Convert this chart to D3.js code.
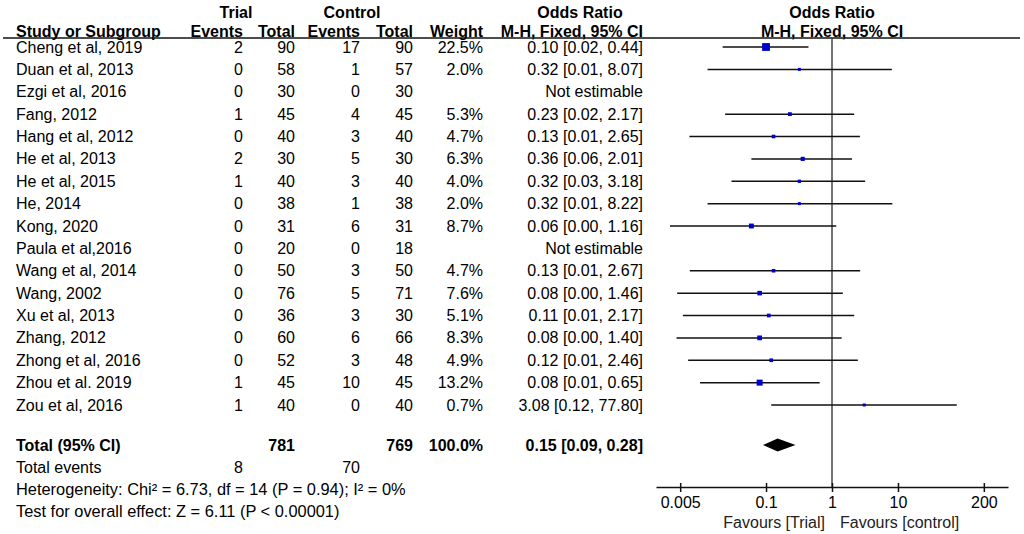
<!DOCTYPE html>
<html>
<head>
<meta charset="utf-8">
<script src="https://cdn.jsdelivr.net/npm/d3@7"></script>
<style>
  body { margin: 0; background: #fff; }
  svg { display: block; font-family: "Liberation Sans", Arial, sans-serif; }
  .bold { font-weight: bold; }
</style>
</head>
<body>
<div id="chart"></div>
<script>
// study rows
const studies = ["Cheng et al, 2019", "Duan et al, 2013", "Ezgi et al, 2016", "Fang, 2012",
  "Hang et al, 2012", "He et al, 2013", "He et al, 2015", "He, 2014", "Kong, 2020",
  "Paula et al,2016", "Wang et al, 2014", "Wang, 2002", "Xu et al, 2013", "Zhang, 2012",
  "Zhong et al, 2016", "Zhou et al. 2019", "Zou et al, 2016"];
const trialEvents = [2, 0, 0, 1, 0, 2, 1, 0, 0, 0, 0, 0, 0, 0, 0, 1, 1];
const trialTotal = [90, 58, 30, 45, 40, 30, 40, 38, 31, 20, 50, 76, 36, 60, 52, 45, 40];
const controlEvents = [17, 1, 0, 4, 3, 5, 3, 1, 6, 0, 3, 5, 3, 6, 3, 10, 0];
const controlTotal = [90, 57, 30, 45, 40, 30, 40, 38, 31, 18, 50, 71, 30, 66, 48, 45, 40];
const weights = [22.5, 2.0, null, 5.3, 4.7, 6.3, 4.0, 2.0, 8.7, null, 4.7, 7.6, 5.1, 8.3, 4.9, 13.2, 0.7];
const orLabels = ["0.10 [0.02, 0.44]", "0.32 [0.01, 8.07]", "Not estimable", "0.23 [0.02, 2.17]",
  "0.13 [0.01, 2.65]", "0.36 [0.06, 2.01]", "0.32 [0.03, 3.18]", "0.32 [0.01, 8.22]",
  "0.06 [0.00, 1.16]", "Not estimable", "0.13 [0.01, 2.67]", "0.08 [0.00, 1.46]",
  "0.11 [0.01, 2.17]", "0.08 [0.00, 1.40]", "0.12 [0.01, 2.46]", "0.08 [0.01, 0.65]",
  "3.08 [0.12, 77.80]"];
// plotted estimates (lower bounds read off the picture where the label rounds to 0.00/0.01)
const orPoint = [0.10, 0.32, null, 0.23, 0.13, 0.36, 0.32, 0.32, 0.06, null, 0.13, 0.08, 0.11, 0.08, 0.12, 0.08, 3.08];
const ciLow = [0.022, 0.013, null, 0.024, 0.0069, 0.06, 0.03, 0.013, 0.0035, null, 0.007, 0.0045, 0.0055, 0.0044, 0.0066, 0.01, 0.12];
const ciHigh = [0.44, 8.07, null, 2.17, 2.65, 2.01, 3.18, 8.22, 1.16, null, 2.67, 1.46, 2.17, 1.40, 2.46, 0.65, 77.80];

// pooled result
const totalLabel = "Total (95% CI)";
const totalN = [781, 769];
const totalWeight = "100.0%";
const pooled = { or: 0.15, low: 0.09, high: 0.28, label: "0.15 [0.09, 0.28]" };
const totalEvents = [8, 70];
const footnotes = ["Heterogeneity: Chi\u00b2 = 6.73, df = 14 (P = 0.94); I\u00b2 = 0%",
  "Test for overall effect: Z = 6.11 (P < 0.00001)"];
const tickValues = [0.005, 0.1, 1, 10, 200];
const tickLabels = ["0.005", "0.1", "1", "10", "200"];
const favourLabels = ["Favours [Trial]", "Favours [control]"];

const width = 1024, height = 534;
const svg = d3.select("#chart").append("svg")
    .attr("width", width)
    .attr("height", height)
    .style("font-size", "16px");

const y = d3.scaleLinear().domain([0, studies.length - 1]).range([47, 405]);
const x = d3.scaleLog().domain([0.00215, 465]).range([656, 1008]);
const axisY = 487;
const dy = "0.35em";

// column right edges
const col = { te: 243, tt: 295, ce: 360, ct: 413, w: 483, or: 643 };

// headers
const head = svg.append("g").attr("class", "bold");
head.append("text").attr("x", 236).attr("y", 12).attr("dy", dy).attr("text-anchor", "middle").text("Trial");
head.append("text").attr("x", 352).attr("y", 12).attr("dy", dy).attr("text-anchor", "middle").text("Control");
head.append("text").attr("x", 580).attr("y", 12).attr("dy", dy).attr("text-anchor", "middle").text("Odds Ratio");
head.append("text").attr("x", 832).attr("y", 12).attr("dy", dy).attr("text-anchor", "middle").text("Odds Ratio");
const sub = [["Study or Subgroup", 16, "start"], ["Events", col.te, "end"], ["Total", col.tt, "end"],
  ["Events", col.ce, "end"], ["Total", col.ct, "end"], ["Weight", col.w, "end"],
  ["M-H, Fixed, 95% CI", col.or, "end"], ["M-H, Fixed, 95% CI", 832, "middle"]];
head.selectAll(".sub").data(sub).join("text")
    .attr("class", "sub")
    .attr("x", d => d[1]).attr("y", 31).attr("dy", dy)
    .attr("text-anchor", d => d[2])
    .text(d => d[0]);
svg.append("line").attr("x1", 3).attr("x2", 1020).attr("y1", 38).attr("y2", 38)
    .attr("stroke", "#111").attr("stroke-width", 1.5);

// study table
const rows = svg.append("g").selectAll("g").data(studies).join("g")
    .attr("transform", (d, i) => `translate(0,${y(i)})`);
rows.append("text").attr("x", 16).attr("dy", dy).text(d => d);
const cells = [[trialEvents, col.te], [trialTotal, col.tt], [controlEvents, col.ce],
  [controlTotal, col.ct]];
cells.forEach(([arr, cx]) => {
  rows.append("text").attr("x", cx).attr("dy", dy).attr("text-anchor", "end")
      .text((d, i) => arr[i]);
});
rows.append("text").attr("x", col.w).attr("dy", dy).attr("text-anchor", "end")
    .text((d, i) => weights[i] == null ? "" : weights[i].toFixed(1) + "%");
rows.append("text").attr("x", col.or).attr("dy", dy).attr("text-anchor", "end")
    .text((d, i) => orLabels[i]);

// vertical line of no effect
svg.append("line").attr("x1", x(1)).attr("x2", x(1)).attr("y1", 38).attr("y2", axisY)
    .attr("stroke", "#444").attr("stroke-width", 1.5);

// CIs and squares
const est = studies.map((s, i) => i).filter(i => orPoint[i] != null);
svg.append("g").selectAll("line").data(est).join("line")
    .attr("x1", i => x(ciLow[i])).attr("x2", i => x(ciHigh[i]))
    .attr("y1", i => y(i)).attr("y2", i => y(i))
    .attr("stroke", "#111").attr("stroke-width", 1.5);
const size = i => Math.max(3, 1.65 * Math.sqrt(weights[i]));
svg.append("g").selectAll("rect").data(est).join("rect")
    .attr("x", i => x(orPoint[i]) - size(i) / 2)
    .attr("y", i => y(i) - size(i) / 2)
    .attr("width", size).attr("height", size)
    .attr("fill", "#0000cc");

// total row
const totY = 445;
const tot = svg.append("g").attr("class", "bold");
tot.append("text").attr("x", 16).attr("y", totY).attr("dy", dy).text(totalLabel);
tot.append("text").attr("x", col.tt).attr("y", totY).attr("dy", dy).attr("text-anchor", "end").text(totalN[0]);
tot.append("text").attr("x", col.ct).attr("y", totY).attr("dy", dy).attr("text-anchor", "end").text(totalN[1]);
tot.append("text").attr("x", col.w).attr("y", totY).attr("dy", dy).attr("text-anchor", "end").text(totalWeight);
tot.append("text").attr("x", col.or).attr("y", totY).attr("dy", dy).attr("text-anchor", "end").text(pooled.label);
svg.append("path")
    .attr("d", `M${x(pooled.low)},${totY} L${x(pooled.or)},${totY - 6.5} L${x(pooled.high)},${totY} L${x(pooled.or)},${totY + 6.5}Z`)
    .attr("fill", "#000");

// total events and footnotes
svg.append("text").attr("x", 16).attr("y", 467).attr("dy", dy).text("Total events");
svg.append("text").attr("x", col.te).attr("y", 467).attr("dy", dy).attr("text-anchor", "end").text(totalEvents[0]);
svg.append("text").attr("x", col.ce).attr("y", 467).attr("dy", dy).attr("text-anchor", "end").text(totalEvents[1]);
svg.selectAll(".foot").data(footnotes).join("text")
    .attr("class", "foot")
    .attr("x", 16).attr("y", (d, i) => 489 + i * 22).attr("dy", dy)
    .style("font-size", "16.4px")
    .text(d => d);

// axis
const axis = svg.append("g")
    .attr("transform", `translate(0,${axisY})`)
    .call(d3.axisBottom(x).tickValues(tickValues).tickSizeOuter(0)
      .tickFormat((d, i) => tickLabels[i]));
axis.select(".domain").attr("stroke", "#111").attr("stroke-width", 1.5);
axis.selectAll(".tick line").attr("y1", -4).attr("y2", 5).attr("stroke", "#111").attr("stroke-width", 1.5);
axis.selectAll(".tick text").attr("y", 10).attr("dy", "0.71em")
    .style("font-size", "16px").style("font-family", "'Liberation Sans', Arial, sans-serif").attr("fill", "#000");

svg.append("text").attr("x", 825).attr("y", 522).attr("dy", dy).attr("text-anchor", "end")
    .attr("fill", "#222").text(favourLabels[0]);
svg.append("text").attr("x", 840).attr("y", 522).attr("dy", dy)
    .attr("fill", "#222").text(favourLabels[1]);
</script>
</body>
</html>
